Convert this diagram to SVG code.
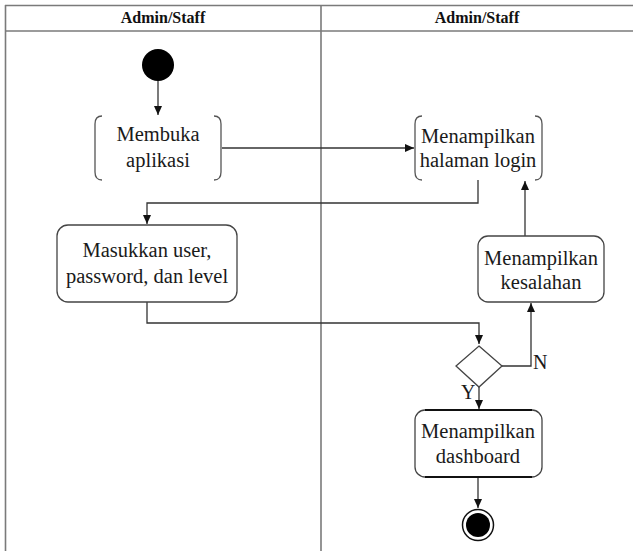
<svg xmlns="http://www.w3.org/2000/svg" width="633" height="551" viewBox="0 0 633 551">
<style>
.lane{fill:none;stroke:#7a7a7a;stroke-width:1.6}
.hdr{font-family:'Liberation Serif','DejaVu Serif',serif;font-weight:bold;font-size:16px;text-anchor:middle;fill:#111}
.lbl{font-family:'Liberation Serif','DejaVu Serif',serif;font-size:20.5px;text-anchor:middle;fill:#1a1a1a}
.box{fill:#fff;stroke:#444;stroke-width:1.3}
.brk{fill:none;stroke:#555;stroke-width:1.3}
.con{fill:none;stroke:#333;stroke-width:1.3}
.yn{font-family:'Liberation Serif','DejaVu Serif',serif;font-size:20px;fill:#1a1a1a}
</style>
<defs>
<marker id="arr" markerWidth="10" markerHeight="10" refX="9" refY="5" orient="auto" markerUnits="userSpaceOnUse">
<path d="M0,1 L9,5 L0,9 Z" fill="#111"/>
</marker>
</defs>
<g id="swimlanes">
<line class="lane" x1="5" y1="5.5" x2="633" y2="5.5"/>
<line class="lane" x1="5" y1="31" x2="633" y2="31"/>
<line class="lane" x1="5.5" y1="5" x2="5.5" y2="551"/>
<line class="lane" x1="321" y1="5" x2="321" y2="551"/>
<text class="hdr" x="163" y="23">Admin/Staff</text>
<text class="hdr" x="477" y="23">Admin/Staff</text>
</g>
<g id="connectors">
<line class="con" x1="158" y1="81" x2="158" y2="115" marker-end="url(#arr)"/>
<line class="con" x1="222" y1="148" x2="414" y2="148" marker-end="url(#arr)"/>
<polyline class="con" points="478,180 478,203 147,203 147,224" marker-end="url(#arr)"/>
<polyline class="con" points="147,302 147,323 479,323 479,344" marker-end="url(#arr)"/>
<polyline class="con" points="502,366 531,366 531,303" marker-end="url(#arr)"/>
<line class="con" x1="525" y1="236" x2="525" y2="181" marker-end="url(#arr)"/>
<line class="con" x1="479" y1="387" x2="479" y2="409" marker-end="url(#arr)"/>
<line class="con" x1="478" y1="477" x2="478" y2="508" marker-end="url(#arr)"/>
<text class="yn" x="533" y="369">N</text>
<text class="yn" x="461" y="399">Y</text>
</g>
<g id="start">
<circle cx="158" cy="65" r="16" fill="#000"/>
</g>
<g id="membuka">
<path class="brk" d="M102,116 Q95,116 95,124 L95,172 Q95,180 102,180"/>
<path class="brk" d="M214,116 Q221,116 221,124 L221,172 Q221,180 214,180"/>
<text class="lbl" x="158" y="141">Membuka</text>
<text class="lbl" x="158" y="167">aplikasi</text>
</g>
<g id="halaman_login">
<path class="brk" d="M422,116 Q415,116 415,124 L415,172 Q415,180 422,180"/>
<path class="brk" d="M535,116 Q542,116 542,124 L542,172 Q542,180 535,180"/>
<text class="lbl" x="478" y="143">Menampilkan</text>
<text class="lbl" x="478" y="167">halaman login</text>
</g>
<g id="masukkan">
<rect class="box" x="57" y="225" width="180" height="77" rx="11"/>
<text class="lbl" x="147" y="257">Masukkan user,</text>
<text class="lbl" x="147" y="283">password, dan level</text>
</g>
<g id="kesalahan">
<rect class="box" x="478" y="236" width="126" height="66" rx="10"/>
<text class="lbl" x="541" y="265">Menampilkan</text>
<text class="lbl" x="541" y="289">kesalahan</text>
</g>
<g id="decision">
<polygon class="box" points="479,346 502,366 479,387 456,366"/>
</g>
<g id="dashboard">
<rect class="box" x="415" y="410" width="127" height="67" rx="10"/>
<line x1="425" y1="410" x2="532" y2="410" stroke="#111" stroke-width="2"/>
<line x1="425" y1="477" x2="532" y2="477" stroke="#111" stroke-width="2"/>
<text class="lbl" x="478" y="438">Menampilkan</text>
<text class="lbl" x="478" y="463">dashboard</text>
</g>
<g id="end">
<circle cx="478" cy="525" r="15.5" fill="#fff" stroke="#111" stroke-width="1.5"/>
<circle cx="478" cy="525" r="12" fill="#000"/>
</g>
</svg>
